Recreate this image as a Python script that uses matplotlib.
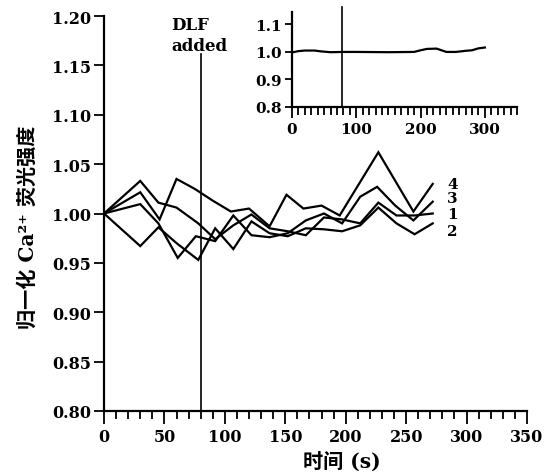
import matplotlib.pyplot as plt
from matplotlib.ticker import MultipleLocator

# ===== DATA =====
t1 = [0, 30, 45, 60, 78, 92, 107, 122, 137, 152, 167, 182, 197, 212, 227, 242, 257, 272]
v1 = [1.000, 1.033, 1.011, 1.006, 0.990, 0.974, 0.988, 0.999, 0.985, 0.982, 0.978, 0.996, 0.994, 0.990, 1.011, 0.998, 0.998, 1.000]

t2 = [0, 30, 45, 60, 78, 92, 107, 122, 137, 152, 167, 182, 197, 212, 227, 242, 257, 272]
v2 = [1.000, 0.967, 0.986, 0.970, 0.953, 0.985, 0.964, 0.992, 0.980, 0.977, 0.985, 0.984, 0.982, 0.988, 1.006, 0.990, 0.979, 0.990]

t3 = [0, 30, 45, 61, 76, 92, 107, 122, 137, 152, 167, 182, 197, 212, 226, 241, 256, 272]
v3 = [1.000, 1.0095, 0.990, 0.955, 0.977, 0.972, 0.998, 0.978, 0.976, 0.980, 0.993, 1.000, 0.990, 1.017, 1.027, 1.008, 0.993, 1.012]

t4 = [0, 30, 46, 60, 75, 90, 105, 120, 137, 151, 165, 180, 195, 227, 256, 272]
v4 = [1.000, 1.0215, 0.994, 1.035, 1.025, 1.013, 1.002, 1.005, 0.987, 1.019, 1.005, 1.008, 0.998, 1.062, 1.002, 1.030]

series = [(t1, v1, '1'), (t2, v2, '2'), (t3, v3, '3'), (t4, v4, '4')]
end_labels = {'4': 1.030, '3': 1.016, '1': 0.999, '2': 0.982}

inset_t = [0, 10, 20, 35, 45, 60, 80, 100, 150, 190, 200, 210, 225, 240, 255, 270, 280, 290, 300]
inset_v = [0.998, 1.003, 1.005, 1.005, 1.002, 0.999, 1.0, 1.0, 0.999, 1.0, 1.006, 1.011, 1.012, 1.0, 1.0, 1.004, 1.006, 1.013, 1.016]

dlf_time = 80

SERIF = 'DejaVu Serif'
# Latin from the serif face, Chinese falls through to Noto CJK
MIXED = ['DejaVu Serif', 'Noto Sans CJK SC']

fig = plt.figure(figsize=(5.49, 4.77), dpi=100)
ax = fig.add_axes([104 / 549, 65 / 477, 423 / 549, 395 / 477])

for t, v, name in series:
    ax.plot(t, v, color='black', lw=1.6, solid_joinstyle='miter')

for name, y in end_labels.items():
    ax.text(284, y, name, fontsize=11, fontweight='bold', family=SERIF,
            ha='left', va='center')

# DLF marker
ax.plot([dlf_time, dlf_time], [0.8, 1.1615], color='black', lw=1.2)
ax.text(56, 1.187, 'DLF', fontsize=12, fontweight='bold', family=SERIF, va='baseline')
ax.text(56, 1.1656, 'added', fontsize=12, fontweight='bold', family=SERIF, va='baseline')

ax.set_xlim(0, 350)
ax.set_ylim(0.80, 1.20)
ax.xaxis.set_major_locator(MultipleLocator(50))
ax.xaxis.set_minor_locator(MultipleLocator(10))
ax.yaxis.set_major_locator(MultipleLocator(0.05))
ax.yaxis.set_major_formatter(plt.FuncFormatter(lambda x, p: f'{x:.2f}'))
for s in ['top', 'right']:
    ax.spines[s].set_visible(False)
for s in ['left', 'bottom']:
    ax.spines[s].set_linewidth(1.6)
ax.tick_params(axis='x', which='major', length=9, width=1.3, pad=3)
ax.tick_params(axis='x', which='minor', length=6, width=1.3)
ax.tick_params(axis='y', which='major', length=7, width=1.3, pad=2)
for lab in ax.get_xticklabels() + ax.get_yticklabels():
    lab.set_family(SERIF)
    lab.set_fontweight('bold')
    lab.set_fontsize(11.5)

fig.text(28 / 549, 1 - 227 / 477, '归一化 Ca²⁺ 荧光强度', rotation=90,
         ha='center', va='center', fontsize=14.5, fontweight='bold', family=MIXED)
fig.text(342 / 549, 1 - 462 / 477, '时间 (s)', ha='center', va='center',
         fontsize=14.5, fontweight='bold', family=MIXED)

# ===== INSET =====
ins = fig.add_axes([292 / 549, 369 / 477, 225 / 549, 95 / 477])
ins.plot(inset_t, inset_v, color='black', lw=1.6)
ins.plot([dlf_time - 2, dlf_time - 2], [0.8, 1.164], color='black', lw=1.2, clip_on=False)
ins.set_xlim(0, 350)
ins.set_ylim(0.8, 1.145)
ins.patch.set_alpha(0)
ins.xaxis.set_major_locator(MultipleLocator(100))
ins.xaxis.set_minor_locator(MultipleLocator(10))
ins.yaxis.set_major_locator(MultipleLocator(0.1))
ins.yaxis.set_major_formatter(plt.FuncFormatter(lambda x, p: f'{x:.1f}'))
for s in ['top', 'right']:
    ins.spines[s].set_visible(False)
for s in ['left', 'bottom']:
    ins.spines[s].set_linewidth(1.6)
ins.tick_params(axis='x', which='major', length=8, width=1.3, pad=3)
ins.tick_params(axis='x', which='minor', length=6, width=1.3)
ins.tick_params(axis='y', which='major', length=5, width=1.3, pad=2)
for lab in ins.get_xticklabels() + ins.get_yticklabels():
    lab.set_family(SERIF)
    lab.set_fontweight('bold')
    lab.set_fontsize(11)

plt.savefig('out.png', dpi=100)
plt.close()
